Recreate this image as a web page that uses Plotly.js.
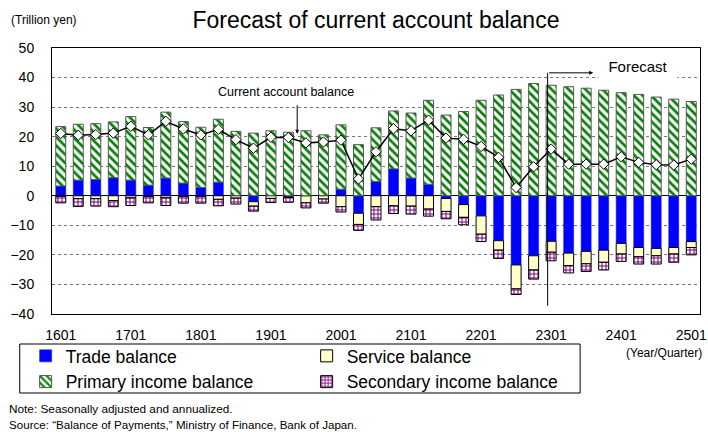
<!DOCTYPE html>
<html>
<head>
<meta charset="utf-8">
<script src="https://cdn.plot.ly/plotly-3.0.1.min.js"></script>
<style>html,body{margin:0;padding:0;background:#fff;}#chart{width:708px;height:432px;}</style>
</head>
<body>
<div id="chart"></div>
<script>
var quarters = ['1601','1602','1603','1604','1701','1702','1703','1704','1801','1802','1803','1804',
  '1901','1902','1903','1904','2001','2002','2003','2004','2101','2102','2103','2104',
  '2201','2202','2203','2204','2301','2302','2303','2304','2401','2402','2403','2404','2501'];
var tickLabels = ['1601','1701','1801','1901','2001','2101','2201','2301','2401','2501'];

var tradeBalance = [3.3,5.3,5.5,6.1,5.3,3.6,6.0,4.3,2.8,4.6,0.1,-2.0,0.1,-0.4,0.0,0.1,2.2,-5.9,4.8,9.1,6.0,3.9,-0.9,-3.0,
  -6.8,-15.2,-23.4,-20.3,-15.4,-19.4,-18.8,-18.4,-16.1,-17.5,-17.8,-17.5,-15.5];
var serviceBalance = [-0.2,-1.0,-1.0,-1.6,-0.7,-0.3,-0.7,-0.3,-0.2,-1.2,-0.8,-1.5,-0.9,-0.2,-2.4,-1.1,-3.7,-3.8,-3.7,-3.4,-3.5,-4.5,-4.4,-4.3,
  -6.2,-3.2,-8.1,-4.8,-3.7,-4.2,-4.2,-4.1,-3.6,-3.1,-2.5,-2.2,-2.0];
var primaryIncome = [20.1,18.9,18.9,18.9,21.5,19.5,22.3,20.8,20.4,21.3,21.7,21.2,21.9,21.5,22.0,20.5,21.8,17.3,18.2,19.6,22.0,28.4,27.3,28.5,
  32.3,34.1,36.0,38.0,37.4,36.9,36.4,35.7,34.9,34.3,33.4,32.7,31.9];
var secondaryIncome = [-2.2,-2.6,-2.5,-2.1,-2.6,-2.1,-2.6,-2.2,-2.3,-2.2,-2.0,-1.7,-1.4,-1.6,-1.7,-1.4,-1.8,-2.0,-4.5,-2.6,-2.7,-2.4,-2.5,-2.5,
  -2.5,-2.8,-1.9,-3.1,-2.9,-2.5,-2.6,-2.6,-2.5,-2.5,-2.8,-2.8,-2.5];
var currentAccount = [21.1,20.5,20.7,21.2,23.5,20.6,25.2,22.6,20.6,22.5,19.0,16.1,19.8,19.7,17.9,18.2,18.8,5.7,14.9,22.7,22.0,25.6,19.5,19.1,
  16.7,13.0,2.8,9.8,15.8,10.7,10.7,10.7,13.2,11.3,10.5,10.4,12.4];

var FONT = 'Liberation Sans, Arial, sans-serif';

var traces = [
  {type:'bar', name:'Trade balance', x:quarters, y:tradeBalance,
   marker:{color:'#0000FF', line:{color:'#0000FF', width:0.5}}},
  {type:'bar', name:'Service balance', x:quarters, y:serviceBalance,
   marker:{color:'#FFFFCC', line:{color:'#000000', width:1}}},
  {type:'bar', name:'Primary income balance', x:quarters, y:primaryIncome,
   marker:{color:'#FFFFFF', line:{color:'#555555', width:1},
     pattern:{shape:'\\', fgcolor:'#008000', bgcolor:'#FFFFFF', size:6, solidity:0.45}}},
  {type:'bar', name:'Secondary income balance', x:quarters, y:secondaryIncome,
   marker:{color:'#FFFFFF', line:{color:'#000000', width:1},
     pattern:{shape:'+', fgcolor:'#800080', bgcolor:'#FFFFFF', size:4, solidity:0.45}}},
  {type:'scatter', mode:'lines+markers', name:'Current account balance', x:quarters, y:currentAccount,
   showlegend:false, line:{color:'#000000', width:1.5},
   marker:{symbol:'diamond', size:8, color:'#FFFFFF', line:{color:'#000000', width:1}}}
];

var layout = {
  width:708, height:432, autosize:false,
  margin:{l:52, r:8, t:48, b:118, pad:0},
  paper_bgcolor:'#FFFFFF', plot_bgcolor:'#FFFFFF',
  font:{family:FONT, color:'#000000'},
  barmode:'relative', bargap:0.43,
  title:{text:'Forecast of current account balance', font:{size:23, family:FONT, color:'#000'},
    xref:'paper', x:0.5, xanchor:'center', yref:'container', y:0.954, yanchor:'middle'},
  xaxis:{type:'category', range:[-0.5,36.5], tickmode:'array', tickvals:tickLabels, ticktext:tickLabels,
    ticks:'', showgrid:false, showline:true, mirror:true, linecolor:'#000', linewidth:1,
    tickfont:{size:14, family:FONT, color:'#000'}, ticklabelstandoff:8, fixedrange:true},
  xaxis2:{overlaying:'x', anchor:'free', position:0.4444, type:'linear', range:[-0.5,36.5],
    tickmode:'linear', tick0:0.5, dtick:1, ticks:'inside', ticklen:4, tickcolor:'#555', tickwidth:1,
    showticklabels:false, showgrid:false, showline:false, zeroline:false},
  yaxis:{range:[-40,50], tickmode:'linear', tick0:-40, dtick:10, ticks:'',
    showgrid:true, gridcolor:'#777', griddash:'dot', gridwidth:1,
    zeroline:true, zerolinecolor:'#000', zerolinewidth:1,
    showline:true, mirror:true, linecolor:'#000', linewidth:1,
    tickfont:{size:14, family:FONT, color:'#000'}, ticklabelstandoff:14},
  legend:{orientation:'h', x:-0.0407, xanchor:'left', y:-0.0902, yanchor:'top',
    bgcolor:'rgba(0,0,0,0)', borderwidth:0, traceorder:'normal',
    font:{size:17.5, family:FONT, color:'#000'}, entrywidth:236, entrywidthmode:'pixels', itemwidth:30},
  shapes:[
    {type:'line', xref:'x', yref:'y', x0:27.8, x1:27.8, y0:41.6, y1:-37.2, line:{color:'#000', width:1}},
    {type:'rect', xref:'paper', yref:'paper', x0:-0.0498, x1:0.815, y0:-0.1128, y1:-0.297,
      line:{color:'#000', width:1}, fillcolor:'rgba(0,0,0,0)'}
  ],
  annotations:[
    {xref:'x', yref:'y', x:12.86, y:35.1, text:'Current account balance', showarrow:false,
      font:{size:12.5, family:FONT, color:'#000'}},
    {xref:'x', yref:'y', x:13.5, y:21, ax:0, ay:-30, text:'', showarrow:true,
      arrowhead:2, arrowsize:0.8, arrowwidth:1, arrowcolor:'#000'},
    {xref:'x', yref:'y', x:30.4, y:41.6, axref:'x', ayref:'y', ax:27.8, ay:41.6, text:'', showarrow:true,
      arrowhead:2, arrowsize:0.8, arrowwidth:1, arrowcolor:'#000', standoff:0},
    {xref:'x', yref:'y', x:32.94, y:43.9, text:'Forecast', showarrow:false, bgcolor:'#FFFFFF',
      width:76, height:26, font:{size:15, family:FONT, color:'#000'}},
    {xref:'paper', yref:'paper', x:-0.0664, y:1.105, xanchor:'left', yanchor:'middle', text:'(Trillion yen)',
      showarrow:false, font:{size:12, family:FONT, color:'#000'}},
    {xref:'paper', yref:'paper', x:1.006, y:-0.1455, xanchor:'right', yanchor:'middle', text:'(Year/Quarter)',
      showarrow:false, font:{size:12, family:FONT, color:'#000'}},
    {xref:'paper', yref:'paper', x:-0.0694, y:-0.356, xanchor:'left', yanchor:'middle',
      text:'Note: Seasonally adjusted and annualized.', showarrow:false, font:{size:11.8, family:FONT, color:'#000'}},
    {xref:'paper', yref:'paper', x:-0.0694, y:-0.4147, xanchor:'left', yanchor:'middle',
      text:'Source: \u201cBalance of Payments,\u201d Ministry of Finance, Bank of Japan.', showarrow:false,
      font:{size:11.6, family:FONT, color:'#000'}}
  ]
};

Plotly.newPlot('chart', traces, layout, {displayModeBar:false, staticPlot:true});
</script>
</body>
</html>
